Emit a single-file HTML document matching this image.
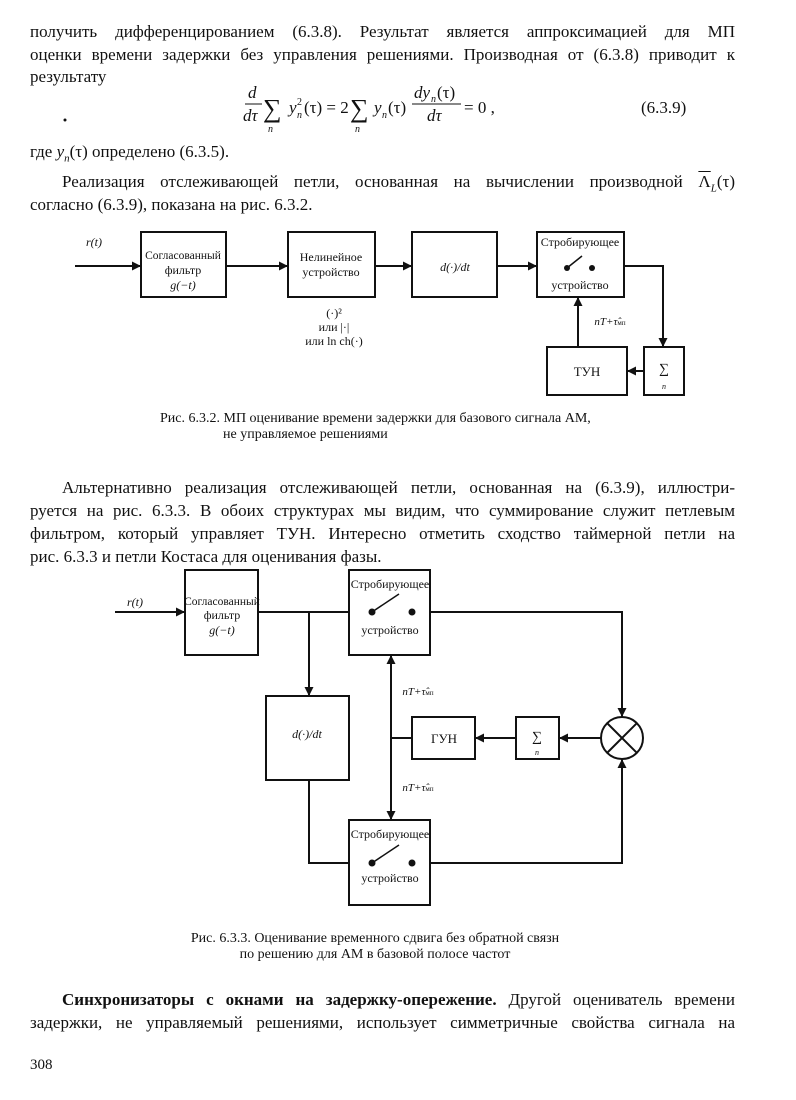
<!DOCTYPE html>
<html><head><meta charset="utf-8"><style>
body{margin:0;background:#fff;}
#p{position:relative;width:796px;height:1100px;overflow:hidden;font-family:"Liberation Serif","Noto Serif CJK SC",serif;color:#111;}
.l{position:absolute;left:30px;width:705px;font-size:17px;line-height:20px;white-space:nowrap;}
.j{text-align:justify;text-align-last:justify;}
.c{position:absolute;font-size:13px;white-space:nowrap;text-align:center;}
svg{position:absolute;left:0;top:0;}
svg text{font-family:"Liberation Serif",serif;fill:#111;}
</style></head><body><div id="p">
<div class="l j" style="top:22px">получить дифференцированием (6.3.8). Результат является аппроксимацией для МП</div>
<div class="l j" style="top:45px">оценки времени задержки без управления решениями. Производная от (6.3.8) приводит к</div>
<div class="l" style="top:67px">результату</div>
<div class="l" style="top:142px">где <i>y<sub style="font-size:11px">n</sub></i>(τ) определено (6.3.5).</div>
<div class="l j" style="top:172px;left:62px;width:673px">Реализация отслеживающей петли, основанная на вычислении производной <span style="text-decoration:overline">Λ</span><sub style="font-size:11px"><i>L</i></sub>(τ)</div>
<div class="l" style="top:195px">согласно (6.3.9), показана на рис. 6.3.2.</div>
<div class="l j" style="top:478px;left:62px;width:673px">Альтернативно реализация отслеживающей петли, основанная на (6.3.9), иллюстри-</div>
<div class="l j" style="top:501px">руется на рис. 6.3.3. В обоих структурах мы видим, что суммирование служит петлевым</div>
<div class="l j" style="top:524px">фильтром, который управляет ТУН. Интересно отметить сходство таймерной петли на</div>
<div class="l" style="top:547px">рис. 6.3.3 и петли Костаса для оценивания фазы.</div>
<div class="l j" style="top:990px;left:62px;width:673px"><b>Синхронизаторы с окнами на задержку-опережение.</b> Другой оцениватель времени</div>
<div class="l j" style="top:1013px">задержки, не управляемый решениями, использует симметричные свойства сигнала на</div>
<div class="l" style="top:1055px;font-size:15px">308</div>
<div class="c" style="left:160px;top:411px;font-size:14px;text-align:left">Рис. 6.3.2. МП оценивание времени задержки для базового сигнала АМ,<br>&nbsp;&nbsp;&nbsp;&nbsp;&nbsp;&nbsp;&nbsp;&nbsp;&nbsp;&nbsp;&nbsp;&nbsp;&nbsp;&nbsp;&nbsp;&nbsp;&nbsp;&nbsp;не управляемое решениями</div>
<div class="c" style="left:175px;top:931px;font-size:14px;width:400px">Рис. 6.3.3. Оценивание временного сдвига без обратной связн<br>по решению для АМ в базовой полосе частот</div>
<svg width="796" height="1100" viewBox="0 0 796 1100">
<defs><marker id="a" viewBox="0 0 10 10" refX="10" refY="5" markerWidth="9" markerHeight="9" markerUnits="userSpaceOnUse" orient="auto"><path d="M0,0L10,5L0,10z" fill="#111"/></marker></defs>
<g font-size="17">
<text x="248" y="98" font-style="italic">d</text><line x1="245" y1="104" x2="262" y2="104" stroke="#111"/><text x="243" y="121" font-style="italic">dτ</text>
<text x="263" y="117" font-size="26">∑</text><text x="268" y="132" font-size="10" font-style="italic">n</text>
<text x="289" y="113" font-style="italic">y</text><text x="297" y="105" font-size="10">2</text><text x="297" y="118" font-size="10" font-style="italic">n</text><text x="304" y="113">(τ) = 2</text>
<text x="350" y="117" font-size="26">∑</text><text x="355" y="132" font-size="10" font-style="italic">n</text>
<text x="374" y="113" font-style="italic">y</text><text x="382" y="118" font-size="10" font-style="italic">n</text><text x="388" y="113">(τ)</text>
<text x="414" y="98" font-style="italic">dy</text><text x="431" y="102" font-size="10" font-style="italic">n</text><text x="437" y="98">(τ)</text><line x1="412" y1="104" x2="461" y2="104" stroke="#111"/><text x="427" y="121" font-style="italic">dτ</text>
<text x="464" y="113">= 0 ,</text>
<text x="641" y="113">(6.3.9)</text>
<circle cx="65" cy="120" r="1.5" fill="#111"/>
</g>
<g stroke="#111" stroke-width="2" fill="none">
<rect x="141" y="232" width="85" height="65"/><rect x="288" y="232" width="87" height="65"/><rect x="412" y="232" width="85" height="65"/><rect x="537" y="232" width="87" height="65"/>
<rect x="547" y="347" width="80" height="48"/><rect x="644" y="347" width="40" height="48"/>
<line x1="75" y1="266" x2="141" y2="266" marker-end="url(#a)"/><line x1="226" y1="266" x2="288" y2="266" marker-end="url(#a)"/><line x1="375" y1="266" x2="412" y2="266" marker-end="url(#a)"/><line x1="497" y1="266" x2="537" y2="266" marker-end="url(#a)"/>
<polyline points="624,266 663,266 663,347" marker-end="url(#a)"/>
<line x1="644" y1="371" x2="627" y2="371" marker-end="url(#a)"/>
<line x1="578" y1="347" x2="578" y2="297" marker-end="url(#a)"/>
<line x1="567" y1="268" x2="582" y2="256" stroke-width="1.5"/>
<rect x="185" y="570" width="73" height="85"/><rect x="349" y="570" width="81" height="85"/><rect x="266" y="696" width="83" height="84"/><rect x="349" y="820" width="81" height="85"/>
<rect x="412" y="717" width="63" height="42"/><rect x="516" y="717" width="43" height="42"/>
<circle cx="622" cy="738" r="21"/><line x1="607" y1="723" x2="637" y2="753"/><line x1="637" y1="723" x2="607" y2="753"/>
<line x1="115" y1="612" x2="185" y2="612" marker-end="url(#a)"/>
<line x1="258" y1="612" x2="349" y2="612"/>
<line x1="309" y1="612" x2="309" y2="696" marker-end="url(#a)"/>
<polyline points="430,612 622,612 622,717" marker-end="url(#a)"/>
<polyline points="309,780 309,863 349,863"/>
<polyline points="430,863 622,863 622,759" marker-end="url(#a)"/>
<line x1="601" y1="738" x2="559" y2="738" marker-end="url(#a)"/>
<line x1="516" y1="738" x2="475" y2="738" marker-end="url(#a)"/>
<line x1="412" y1="738" x2="391" y2="738"/>
<line x1="391" y1="738" x2="391" y2="655" marker-end="url(#a)"/>
<line x1="391" y1="738" x2="391" y2="820" marker-end="url(#a)"/>
<line x1="372" y1="612" x2="399" y2="594" stroke-width="1.5"/>
<line x1="372" y1="863" x2="399" y2="845" stroke-width="1.5"/>
</g>
<g fill="#111">
<circle cx="567" cy="268" r="3"/><circle cx="592" cy="268" r="3"/>
<circle cx="372" cy="612" r="3.5"/><circle cx="412" cy="612" r="3.5"/>
<circle cx="372" cy="863" r="3.5"/><circle cx="412" cy="863" r="3.5"/>
</g>
<g font-size="12" text-anchor="middle">
<text x="94" y="246" font-style="italic">r(t)</text>
<text x="183" y="259" font-size="11.5">Согласованный</text><text x="183" y="274">фильтр</text><text x="183" y="289" font-style="italic">g(−t)</text>
<text x="331" y="261">Нелинейное</text><text x="331" y="276">устройство</text>
<text x="455" y="271" font-style="italic">d(·)/dt</text>
<text x="580" y="246">Стробирующее</text><text x="580" y="289">устройство</text>
<text x="587" y="376" font-size="13">ТУН</text><text x="664" y="373" font-size="14">∑</text><text x="664" y="389" font-size="8" font-style="italic">n</text>
<text x="334" y="317">(·)²</text><text x="334" y="331">или |·|</text><text x="334" y="345">или ln ch(·)</text>
<text x="610" y="325" font-style="italic" font-size="11">nT+τ̂<tspan font-size="7" font-style="normal">мп</tspan></text>
<text x="135" y="606" font-style="italic">r(t)</text>
<text x="222" y="605" font-size="11.5">Согласованный</text><text x="222" y="619">фильтр</text><text x="222" y="634" font-style="italic">g(−t)</text>
<text x="390" y="588">Стробирующее</text><text x="390" y="634">устройство</text>
<text x="390" y="838">Стробирующее</text><text x="390" y="882">устройство</text>
<text x="307" y="738" font-style="italic">d(·)/dt</text>
<text x="444" y="743" font-size="13">ГУН</text><text x="537" y="741" font-size="14">∑</text><text x="537" y="755" font-size="8" font-style="italic">n</text>
<text x="418" y="695" font-style="italic" font-size="11">nT+τ̂<tspan font-size="7" font-style="normal">мп</tspan></text>
<text x="418" y="791" font-style="italic" font-size="11">nT+τ̂<tspan font-size="7" font-style="normal">мп</tspan></text>
</g>
</svg>
</div></body></html>
